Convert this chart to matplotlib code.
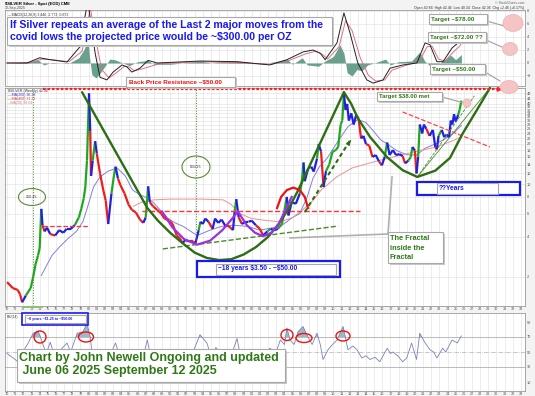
import matplotlib
matplotlib.use('agg')
import matplotlib.pyplot as plt
import numpy as np
from matplotlib.collections import LineCollection
from matplotlib.patches import Rectangle, Ellipse
from matplotlib.lines import Line2D
from matplotlib.ticker import FixedLocator, NullLocator, FixedFormatter

plt.rcParams['font.family'] = ['Liberation Sans', 'DejaVu Sans']
plt.rcParams['text.parse_math'] = False

# ---- data ----
price_x = [1970.0, 1970.7, 1971.3, 1971.6, 1971.85, 1972.3, 1972.9, 1973.2, 1973.5, 1973.8,
           1974.0, 1974.2, 1974.35, 1974.6, 1974.9, 1975.3, 1975.9, 1976.4, 1976.9, 1977.3,
           1977.8, 1978.3, 1978.8, 1979.1, 1979.4, 1979.6, 1979.8, 1980.05, 1980.2, 1980.3,
           1980.5, 1980.8, 1981.0, 1981.4, 1981.8, 1982.1, 1982.4, 1982.8, 1983.1, 1983.3,
           1983.6, 1983.9, 1984.4, 1984.9, 1985.3, 1985.8, 1986.3, 1986.7, 1987.0, 1987.3,
           1987.5, 1987.9, 1988.4, 1988.9, 1989.3, 1989.9, 1990.3, 1990.8, 1991.2, 1991.5,
           1991.9, 1992.3, 1992.8, 1993.1, 1993.5, 1993.7, 1994.0, 1994.3, 1994.7, 1995.2,
           1995.5, 1995.9, 1996.3, 1996.8, 1997.2, 1997.7, 1997.9, 1998.1, 1998.4, 1998.8,
           1999.2, 1999.6, 2000.0, 2000.5, 2001.0, 2001.4, 2001.9, 2002.3, 2002.8, 2003.2,
           2003.7, 2004.0, 2004.3, 2004.5, 2004.9, 2005.4, 2005.9, 2006.1, 2006.35, 2006.5,
           2006.9, 2007.3, 2007.6, 2008.0, 2008.2, 2008.5, 2008.8, 2009.1, 2009.5, 2009.9,
           2010.3, 2010.6, 2010.9, 2011.1, 2011.3, 2011.5, 2011.7, 2011.9, 2012.2, 2012.5,
           2012.8, 2013.1, 2013.4, 2013.7, 2014.0, 2014.4, 2014.8, 2015.2, 2015.6, 2015.95,
           2016.3, 2016.6, 2016.9, 2017.3, 2017.7, 2018.1, 2018.5, 2018.8, 2019.2, 2019.5,
           2019.7, 2020.0, 2020.2, 2020.4, 2020.6, 2020.9, 2021.1, 2021.4, 2021.8, 2022.2,
           2022.5, 2022.7, 2022.9, 2023.3, 2023.6, 2023.9, 2024.2, 2024.4, 2024.6, 2024.8,
           2025.0, 2025.3, 2025.5, 2025.7]
price_y = [1.83, 1.65, 1.60, 1.48, 1.29, 1.45, 1.65, 2.0, 2.5, 2.9,
           3.3, 6.5, 4.9, 4.4, 4.7, 4.2, 4.1, 4.5, 4.3, 4.6,
           4.6, 4.9, 5.6, 6.5, 7.8, 9.5, 15, 48, 25, 11.5,
           15, 21, 17, 12, 9, 7.5, 5.0, 8.5, 11.5, 13.5,
           11, 9.8, 8.5, 7.0, 6.4, 6.1, 5.4, 5.1, 5.6, 9.6,
           7.3, 6.8, 6.4, 6.0, 5.5, 5.3, 5.0, 4.1, 3.9, 3.6,
           3.8, 3.7, 3.7, 3.6, 4.5, 5.2, 5.0, 5.5, 5.2, 4.6,
           5.5, 5.1, 5.4, 4.8, 4.8, 4.5, 6.2, 7.7, 5.6, 5.0,
           5.2, 5.2, 5.3, 4.9, 4.6, 4.1, 4.4, 4.6, 4.5, 4.6,
           5.0, 6.3, 8.0, 5.8, 7.3, 7.1, 8.5, 10, 14.5, 10.5,
           13, 13.5, 12.4, 15.5, 20, 17.5, 9.5, 12.5, 14, 17.5,
           18, 19, 28, 30, 48, 36, 40, 30, 34, 28,
           33, 31, 22, 23, 20, 19.5, 16, 16.5, 14.8, 13.8,
           16, 20.5, 16.5, 18, 16.5, 16.8, 16.2, 14.3, 15, 16,
           19, 17.8, 12, 16, 28, 24, 28, 26, 23, 25.5,
           19, 18.2, 23, 25.5, 22.5, 23.5, 22.5, 30, 28, 33.5,
           29.5, 33, 36.5, 42.4]

ma_blue_x = [1974.2, 1975.5, 1976.5, 1977.5, 1978.5, 1979.3, 1979.9, 1980.6, 1981.4, 1982.4,
             1983.5, 1984.5, 1985.4, 1986.3, 1987.1, 1988.0, 1989.6, 1990.6, 1991.6, 1993.3,
             1994.9, 1996.3, 1997.7, 1999.5, 2001.0, 2003.5, 2005.0, 2005.9, 2006.8, 2007.5,
             2008.3, 2009.2, 2010.0, 2010.8, 2011.8, 2013.0, 2014.0, 2014.8, 2015.8, 2016.6,
             2017.8, 2019.0, 2020.2, 2021.2, 2022.5, 2023.5, 2024.5, 2025.7]
ma_blue_y = [2.05, 2.9, 3.4, 3.9, 4.4, 5.2, 6.8, 9.5, 11.3, 12.5,
             13.2, 11.5, 9.0, 8.3, 7.9, 7.2, 5.6, 5.1, 4.8, 4.1,
             4.5, 4.8, 4.9, 4.8, 4.5, 4.8, 5.6, 6.0, 8.0, 11.0,
             13.5, 15.5, 18.5, 22, 27, 30.5, 29, 25.5, 21.5, 20,
             17.8, 16.6, 16.5, 18.5, 20, 21.5, 23.5, 27.5]

ma_red_x = [1985.5, 1986.5, 1988.0, 1990.0, 1992.0, 1994.0, 1996.5, 1997.5, 1998.5, 2000.0,
            2002.0, 2003.5, 2005.0, 2006.0, 2007.5, 2008.5, 2010.4, 2012.3, 2014.5, 2016.5,
            2018.5, 2020.5, 2022.7, 2024.5, 2025.7]
ma_red_y = [6.8, 7.3, 7.6, 7.7, 7.7, 7.7, 7.6, 7.0, 6.0, 5.5,
            5.3, 5.2, 5.6, 6.2, 7.5, 9.0, 11.3, 13.2, 14.4, 15.5,
            16.6, 17.8, 19, 21, 22.6]

macd_x = [1970.0, 1972.45, 1974.0, 1975.3, 1977.35, 1978.95, 1979.55, 1979.9, 1980.8, 1981.4,
          1982.25, 1983.0, 1984.1, 1984.7, 1985.3, 1986.3, 1987.3, 1988.4, 1993.7, 1998.2,
          2002.2, 2004.3, 2006.3, 2007.5, 2008.4, 2009.0, 2010.45, 2011.3, 2012.05, 2013.0,
          2014.1, 2014.9, 2016.1, 2016.95, 2018.55, 2020.25, 2021.25, 2021.85, 2022.7, 2023.45,
          2024.55, 2025.3, 2025.7]
macd_y = [0.0, 0.0, 0.8, 0.5, 0.15, 2.5, 7.1, 9.5, 1.5, -2.2,
          -2.6, -1.4, -0.3, -0.6, -1.4, -0.8, 0.4, 0.0, 0.3, 0.2,
          -0.3, 0.5, 1.7, 2.0, 1.5, 0.5, 3.1, 7.7, 4.6, 0.0,
          -2.6, -3.1, -2.6, -0.8, -0.3, 0.0, 3.1, 2.8, 0.2, 0.2,
          2.3, 3.1, 4.3]
signal_x = [1970.0, 1972.7, 1974.3, 1975.6, 1977.6, 1979.2, 1979.8, 1980.2, 1980.9, 1981.6,
            1982.5, 1983.3, 1984.4, 1985.0, 1985.6, 1986.6, 1988.7, 1993.9, 2002.4, 2004.6,
            2006.6, 2007.8, 2008.7, 2009.3, 2010.7, 2011.5, 2012.3, 2013.3, 2014.3, 2015.2,
            2016.3, 2017.2, 2018.8, 2020.5, 2021.5, 2022.1, 2022.9, 2023.7, 2024.8, 2025.5,
            2025.7]
signal_y = [0.0, 0.0, 0.6, 0.5, 0.2, 1.8, 5.5, 8.5, 3.5, -1.0,
            -2.3, -1.6, -0.5, -0.6, -1.2, -0.9, -0.1, 0.2, -0.2, 0.4,
            1.4, 1.8, 1.3, 0.6, 2.5, 6.5, 5.0, 0.8, -1.9, -2.8,
            -2.6, -1.1, -0.4, 0.2, 2.5, 2.6, 0.6, 0.3, 1.8, 2.6,
            3.0]
hist_x = [1970.5, 1973.0, 1973.8, 1974.5, 1975.5, 1977.5, 1978.8, 1979.5, 1979.9, 1980.1,
          1980.4, 1980.9, 1981.4, 1982.0, 1982.6, 1983.2, 1984.0, 1985.0, 1986.0, 1987.3,
          1988.0, 1990.0, 1993.7, 1995.0, 1998.2, 2001.5, 2003.7, 2004.3, 2005.0, 2006.2,
          2006.8, 2008.2, 2009.0, 2010.0, 2010.8, 2011.3, 2011.7, 2012.3, 2012.9, 2013.5,
          2014.2, 2015.5, 2016.4, 2017.0, 2018.0, 2019.6, 2020.6, 2021.2, 2021.9, 2022.6,
          2023.4, 2024.4, 2025.0, 2025.7]
hist_y = [0.0, 0.3, 0.5, -0.3, 0.1, -0.1, 0.8, 2.2, 4.2, 1.0,
          -1.8, -2.3, -1.6, -0.5, 0.6, 0.5, 0.1, -0.4, 0.2, 0.4,
          -0.2, -0.2, 0.3, 0.0, 0.3, -0.1, 0.4, 0.6, -0.2, 0.8,
          -0.3, -0.5, 0.3, 1.0, 2.8, 1.5, -1.5, -2.0, -1.0, -1.2,
          -0.3, 0.2, 0.6, -0.3, 0.2, 0.3, 1.7, 0.3, -0.5, -0.4,
          0.3, 1.2, 0.5, 1.3]

rsi_x = [1970.0, 1971.0, 1971.8, 1972.2, 1972.6, 1973.2, 1973.8, 1974.1, 1974.4, 1974.8,
         1975.3, 1975.8, 1976.5, 1977.35, 1977.8, 1978.6, 1979.3, 1979.8, 1980.2, 1980.5,
         1981.0, 1981.6, 1982.4, 1983.0, 1983.3, 1983.8, 1984.6, 1985.5, 1986.5, 1987.2,
         1987.6, 1988.5, 1989.5, 1990.5, 1991.5, 1992.5, 1993.65, 1994.5, 1995.0, 1995.6,
         1996.5, 1997.3, 1998.2, 1998.6, 1999.5, 2000.5, 2001.4, 2002.2, 2003.0, 2003.5,
         2004.0, 2004.32, 2004.69, 2005.2, 2005.67, 2006.28, 2006.9, 2007.4, 2008.0, 2008.4,
         2008.74, 2009.35, 2009.9, 2010.45, 2011.2, 2011.8, 2012.4, 2012.9, 2013.5, 2014.0,
         2014.5, 2015.1, 2015.7, 2016.1, 2016.6, 2017.0, 2017.3, 2017.9, 2018.5, 2019.0,
         2019.6, 2020.2, 2020.6, 2021.2, 2021.85, 2022.3, 2022.7, 2023.4, 2023.8, 2024.55,
         2025.2, 2025.7]
rsi_y = [48, 40, 32, 55, 62, 75, 78, 70, 60, 48,
         63, 45, 52, 62, 50, 75, 77, 88, 70, 42,
         50, 35, 30, 55, 62, 45, 38, 40, 36, 66,
         45, 40, 42, 35, 30, 42, 73, 62, 45, 56,
         45, 40, 68, 45, 50, 42, 36, 55, 50, 66,
         60, 82, 66, 60, 77, 84, 70, 60, 75, 60,
         40, 53, 60, 66, 84, 53, 58, 53, 42, 45,
         40, 43, 37, 45, 55, 48, 50, 45, 37, 42,
         62, 40, 75, 63, 53, 50, 42, 55, 50, 66,
         62, 71.5]

year_ticks = list(range(1970, 2034))
year_labels = ['%02d' % (y % 100) for y in year_ticks]
price_ticks = [2, 4, 6, 8, 10, 12, 14, 16, 18, 20, 22, 24, 26, 28, 30, 32, 34, 36, 38, 40, 44, 48]

# ---- annotation shapes drawn on the price chart (year, price) ----
cup1_x = [1979.2, 1987.2, 1988.5, 1990.0, 1991.5, 1993.0, 1994.5, 1996.0, 1997.5, 1999.0,
          2000.5, 2002.0, 2003.3, 2004.5, 2005.7, 2011.3]
cup1_y = [49, 6.6, 5.3, 4.3, 3.6, 3.05, 2.78, 2.68, 2.72, 2.95,
          3.35, 4.0, 5.0, 6.5, 9.0, 49]
cup2_x = [2011.3, 2012.2, 2013.0, 2014.5, 2016.6, 2018.5, 2020.3, 2022.5, 2024.3, 2025.9, 2027.6, 2029.2]
cup2_y = [49, 40, 31.3, 22.6, 15.9, 12.7, 11.3, 12.6, 15.7, 24.2, 36, 52.7]
purple1_x = [1989.0, 1990.3, 1991.7, 1993.3, 1994.9, 1996.4, 1997.5, 1998.3]
purple1_y = [6.2, 4.7, 3.85, 3.5, 3.75, 4.5, 5.4, 6.2]
purple2_x = [1998.3, 1999.4, 2000.4, 2001.4, 2002.4, 2003.3, 2004.2, 2004.9]
purple2_y = [6.2, 4.9, 4.3, 4.05, 4.3, 5.0, 6.5, 8.0]
arc_x = [2003.1, 2003.6, 2004.3, 2005.1, 2005.9, 2006.5, 2006.9]
arc_y = [6.6, 8.0, 9.0, 9.4, 9.0, 8.0, 6.6]

GREEN = '#2c6e14'
TGREEN = '#2f7a17'
BLUE = '#1a1aee'
W, H = 535, 396


def rect_px(x0, y0, x1, y1):
    return [x0 / W, 1 - y1 / H, (x1 - x0) / W, (y1 - y0) / H]


def fx(x):
    return x / W


def fy(y):
    return 1 - y / H


def main():
    fig = plt.figure(figsize=(5.35, 3.96), dpi=100, facecolor='#f3f3f3')
    ax_m = fig.add_axes(rect_px(5, 10, 525, 86))
    ax_p = fig.add_axes(rect_px(5, 88, 525, 306))
    ax_r = fig.add_axes(rect_px(5, 313, 525, 391))

    for ax in (ax_m, ax_p, ax_r):
        ax.set_xlim(1969.75, 2033.5)
        ax.set_facecolor('white')
        for s in ax.spines.values():
            s.set_color('#9a9a9a')
            s.set_linewidth(0.6)
        ax.set_xticks(year_ticks)
        ax.set_xticklabels(year_labels)
        ax.tick_params(axis='both', length=0, pad=1, labelsize=2.8, colors='#555555')
        ax.yaxis.tick_right()
        ax.grid(color='#e4e4e4', linewidth=0.5)
        ax.set_axisbelow(True)
    ax_m.set_xticklabels([])

    # ---- price panel ----
    ax_p.set_yscale('log')
    ax_p.set_ylim(1.21, 52.7)
    ax_p.yaxis.set_major_locator(FixedLocator(price_ticks))
    ax_p.yaxis.set_major_formatter(FixedFormatter([str(t) for t in price_ticks]))
    ax_p.yaxis.set_minor_locator(NullLocator())

    d = np.diff(price_y)
    segs, cols = [], []
    for i in range(len(d)):
        up = d[i] > 0
        prev = d[i - 1] > 0 if i > 0 else up
        if up and prev:
            c = '#1fa81f'
        elif not up and not prev:
            c = '#ee1c1c'
        else:
            c = '#2020e0'
        segs.append([(price_x[i], price_y[i]), (price_x[i + 1], price_y[i + 1])])
        cols.append(c)
    ax_p.add_collection(LineCollection(segs, colors=cols, linewidths=1.6, zorder=3))
    ax_p.plot(ma_blue_x, ma_blue_y, color='#8080e0', lw=0.7, zorder=2)
    ax_p.plot(ma_red_x, ma_red_y, color='#f09090', lw=0.7, zorder=2)

    # trend drawings
    ax_p.plot(cup1_x, cup1_y, color=GREEN, lw=1.7, zorder=5, solid_capstyle='round')
    ax_p.plot(cup2_x, cup2_y, color=GREEN, lw=1.7, zorder=5, clip_on=False, solid_capstyle='round')
    ax_p.plot(purple1_x, purple1_y, color='#9b30e0', lw=1.6, zorder=5)
    ax_p.plot(purple2_x, purple2_y, color='#9b30e0', lw=1.6, zorder=5)
    ax_p.plot(arc_x, arc_y, color='#ee1111', lw=1.6, zorder=5)
    ax_p.plot([2020.3, 2029.2], [11.3, 52.7], color='#4a8f30', lw=0.6, zorder=4, clip_on=False)
    ax_p.plot([2020.3, 2027.3], [11.3, 46], color='#4a8f30', lw=0.6, ls='--', zorder=4)
    ax_p.plot([2018.5, 2029.2], [34.8, 19.0], color='#ff4444', lw=0.9, ls='--', zorder=4)
    ax_p.plot([1989.1, 2010.6], [3.25, 4.83], color='#4a8a2a', lw=1.0, ls='--', zorder=4)
    ax_p.plot([1974.4, 1979.9], [4.83, 4.83], color='#ff3333', lw=0.9, ls='--', zorder=4)
    ax_p.plot([1986.5, 2013.3], [6.27, 6.27], color='#ff3333', lw=1.0, ls='--', zorder=4)
    ax_p.plot([2006.5, 2012.0], [6.15, 21.0], color=GREEN, lw=1.5, ls=(0, (2, 1.5)), zorder=5)
    ax_p.annotate('', xy=(2012.3, 22.1), xytext=(2011.9, 20.3),
                  arrowprops=dict(arrowstyle='-|>', color=GREEN, lw=1.2, mutation_scale=5), zorder=5)
    ax_p.plot([1973.18, 1973.18], [1.21, 51.5], color='#4a8a2a', lw=0.7, ls=':', zorder=4)
    ax_p.plot([1993.16, 1993.16], [3.79, 52.7], color='#4a8a2a', lw=0.7, ls=':', zorder=4)
    ax_p.plot([2016.7, 2017.2], [4.21, 11.3], color='#b0b0b0', lw=1.2, zorder=4)
    ax_p.plot([2016.7, 2004.7], [4.21, 3.93], color='#b0b0b0', lw=1.2, zorder=4)
    # $50 resistance arrow
    ax_p.plot([1974.4, 2030.6], [51.5, 51.5], color='#ff1f1f', lw=1.6, ls=(0, (1.2, 0.8)),
              zorder=6, clip_on=False)
    ax_p.annotate('', xy=(2031.1, 51.5), xytext=(2030.2, 51.5),
                  arrowprops=dict(arrowstyle='-|>', color='#ff1f1f', lw=1.2, mutation_scale=6),
                  annotation_clip=False, zorder=6)

    ax_p.text(0.006, 0.995, '$SILVER (Weekly) 42.36', transform=ax_p.transAxes, fontsize=2.6,
              va='top', color='#333333')
    ax_p.text(0.006, 0.975, '\u2014MA(200) 36.28', transform=ax_p.transAxes, fontsize=2.6,
              va='top', color='#3030c0')
    ax_p.text(0.006, 0.957, '\u2014MA(400) 31.23', transform=ax_p.transAxes, fontsize=2.6,
              va='top', color='#d04040')
    ax_p.text(0.006, 0.939, '--MA(20) 39.04', transform=ax_p.transAxes, fontsize=2.6,
              va='top', color='#c08070')

    # ---- MACD panel ----
    ax_m.set_ylim(-3.54, 8.15)
    ax_m.set_yticks([-2, 0, 2, 4, 6, 8])
    ax_m.fill_between(hist_x, 0, hist_y, color='#4f8f7a', alpha=0.85, lw=0, zorder=2)
    ax_m.plot(signal_x, signal_y, color='#e07080', lw=0.7, zorder=3)
    ax_m.plot(macd_x, macd_y, color='#222222', lw=0.7, zorder=4)
    ax_m.text(0.006, 0.965, '\u2014MACD(12,26,9) 3.446, 2.773, 0.673', transform=ax_m.transAxes,
              fontsize=2.6, va='top', color='#333333')

    # ---- RSI panel ----
    ax_r.set_ylim(-2, 102)
    ax_r.set_yticks([10, 30, 50, 70, 90])
    ax_r.grid(axis='y', visible=False)
    ax_r.axhline(70, color='#b0b0b0', lw=0.6)
    ax_r.axhline(30, color='#b0b0b0', lw=0.6)
    ax_r.axhline(50, color='#b0b0b0', lw=0.5, ls='-.')
    rx, ry = np.array(rsi_x), np.array(rsi_y)
    ax_r.fill_between(rx, 70, ry, where=ry > 70, interpolate=True, color='#9fb8c8', lw=0)
    ax_r.plot(rx, ry, color='#7884b4', lw=0.6)
    ax_r.text(0.003, 0.97, 'RSI(14)', transform=ax_r.transAxes, fontsize=2.4,
              va='top', color='#333333')

    # ---- header ----
    fig.text(fx(5), fy(4), '$SILVER Silver - Spot (EOD) CME', fontsize=3, weight='bold', va='center')
    fig.text(fx(5), fy(8), '12-Sep-2025', fontsize=2.6, va='center', color='#444444')
    fig.text(fx(524), fy(3), '\u00a9 StockCharts.com', fontsize=2.4, va='center', ha='right',
             color='#666666')
    fig.text(fx(524), fy(7.5), 'Open 40.84  High 42.46  Low 40.34  Close 42.36  Chg +2.46 (+6.17%)',
             fontsize=2.5, va='center', ha='right', color='#333333')

    def box(x0, y0, x1, y1, ec='#a8a8a8', lw=0.8, fc='white', z=10, shadow=False):
        if shadow:
            fig.add_artist(Rectangle((fx(x0 + 1.5), fy(y1 + 1.5)), (x1 - x0) / W, (y1 - y0) / H,
                                     transform=fig.transFigure, fc='#c8c8c8', ec='none', zorder=z))
        fig.add_artist(Rectangle((fx(x0), fy(y1)), (x1 - x0) / W, (y1 - y0) / H,
                                 transform=fig.transFigure, fc=fc, ec=ec, lw=lw, zorder=z))

    def text(x, y, s, size, color, ha='left', weight='bold', z=12):
        fig.text(fx(x), fy(y), s, fontsize=size, color=color, ha=ha, va='center',
                 weight=weight, zorder=z)

    def pline(xs, ys, color='#a8a8a8', lw=0.9, z=9):
        fig.add_artist(Line2D([fx(v) for v in xs], [fy(v) for v in ys], color=color, lw=lw,
                              transform=fig.transFigure, zorder=z))

    def ell(cx, cy, w, h, fc='none', ec='#5c8a3c', lw=0.8, z=11):
        fig.add_artist(Ellipse((fx(cx), fy(cy)), w / W, h / H, transform=fig.transFigure,
                               fc=fc, ec=ec, lw=lw, zorder=z))

    # headline box
    box(7, 17, 332, 45, shadow=True)
    text(10, 25, 'If Silver repeats an average of the Last 2 major moves from the', 7.6, BLUE)
    text(10, 37.5, 'covid lows the projected price would be ~$300.00 per OZ', 7.6, BLUE)

    box(126, 77, 235, 87, shadow=True)
    text(129, 82, 'Back Price Resistance ~$50.00', 4.6, '#ee1111')

    # target callouts
    pline([487, 504], [21, 26])
    pline([486, 502], [40, 47])
    pline([485, 500], [72, 81])
    pline([442, 464], [97, 103])
    ell(513, 23, 20, 17, fc='#f5c5c5', ec='#ecb0b0', lw=0.5)
    ell(510, 49, 15, 13, fc='#f5c5c5', ec='#ecb0b0', lw=0.5)
    ell(509, 87, 18, 13, fc='#f5c5c5', ec='#ecb0b0', lw=0.5)
    ell(467, 103, 8, 8, fc='#f5c5c5', ec='#ecb0b0', lw=0.5)
    box(429, 14, 487, 24, shadow=True)
    text(431, 19, 'Target ~$78.00', 4.5, TGREEN)
    box(428, 32, 486, 42, shadow=True)
    text(430, 37, 'Target ~$72.00 ??', 4.5, TGREEN)
    box(430, 64, 485, 74, shadow=True)
    text(432, 69, 'Target ~$50.00', 4.5, TGREEN)
    box(377, 92, 442, 101, shadow=True)
    text(379, 96.5, 'Target $38.00 met', 4.3, TGREEN)

    # percentage ellipses
    ell(32, 197, 27, 17)
    text(32, 197, '3301.4%', 2.2, '#333333', ha='center', weight='normal')
    ell(196, 167, 28, 22)
    text(196, 167, '1304.1%', 2.2, '#333333', ha='center', weight='normal')

    # fractal note
    box(388, 232, 443, 263, shadow=True)
    text(390, 238.5, 'The Fractal', 5.3, TGREEN)
    text(390, 248, 'inside the', 5.3, TGREEN)
    text(390, 257.5, 'Fractal', 5.3, TGREEN)

    # year boxes
    box(197, 261, 340, 277, ec=BLUE, lw=1.6)
    box(216, 263.5, 336, 274.5)
    text(218, 269, '~18 years $3.50 - ~$50.00', 4.8, BLUE)
    box(417, 182, 520, 195, ec=BLUE, lw=1.6)
    box(437, 183.5, 498, 193.5)
    text(439, 188.5, '??Years', 4.8, BLUE)
    box(22, 313, 88, 325, ec=BLUE, lw=1.2)
    box(25, 315, 86, 323)
    text(27, 319, '~8 years ~$1.25 to ~$50.00', 2.6, BLUE)
    fig.add_artist(Rectangle((fx(22), fy(308)), 21 / W, 2.5 / H, transform=fig.transFigure,
                             fc='#8fbf6f', ec='none', zorder=8))

    # RSI circles
    for cx, cy, w, h in [(40, 337, 12, 12), (86, 337, 15, 10), (287, 335, 12, 11),
                         (304, 338, 16, 9), (343, 336, 14, 10)]:
        ell(cx, cy, w, h, ec='#ee1111', lw=1.0)

    # credit box
    box(17, 349, 285, 382, shadow=True)
    text(19, 358, 'Chart by John Newell Ongoing and updated', 9, TGREEN)
    text(19, 371, ' June 06 2025 September 12 2025', 9, TGREEN)

    fig.savefig('out.png', dpi=100, facecolor=fig.get_facecolor())


if __name__ == '__main__':
    main()
